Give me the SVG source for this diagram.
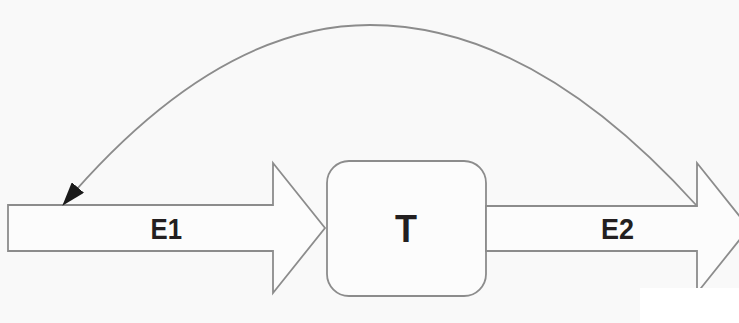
<svg xmlns="http://www.w3.org/2000/svg" width="739" height="323" viewBox="0 0 739 323">
  <defs>
    <style>
      .shape { fill: #fcfcfc; stroke: #8c8c8c; stroke-width: 1.8; stroke-linejoin: miter; }
      .lbl { font-family: "Liberation Sans", Arial, sans-serif; font-weight: bold; fill: #231f20; }
      .conn { fill: none; stroke: #8c8c8c; stroke-width: 1.8; }
    </style>
    <marker id="ah" viewBox="0 0 24 16" refX="23" refY="8" markerWidth="24" markerHeight="16" markerUnits="userSpaceOnUse" orient="auto">
      <path d="M0,0 L24,8 L0,16 Z" fill="#1a1a1a"/>
    </marker>
  </defs>
  <rect x="0" y="0" width="739" height="323" fill="#f9f9f9"/>

  <g id="E1">
    <path class="shape" d="M8,205 L273,205 L273,163 L325,228 L273,293 L273,251 L8,251 Z"/>
    <text class="lbl" x="150.5" y="239" font-size="30" textLength="31.5" lengthAdjust="spacingAndGlyphs">E1</text>
  </g>

  <g id="T">
    <rect class="shape" x="327" y="161" width="159" height="135" rx="22" ry="22"/>
    <text class="lbl" x="395" y="242" font-size="39" textLength="22" lengthAdjust="spacingAndGlyphs">T</text>
  </g>

  <g id="E2">
    <path class="shape" d="M486,206 L697,206 L697,163 L749,228 L697,293 L697,251 L486,251 Z"/>
    <rect x="640" y="288" width="99" height="35" fill="#ffffff"/>
    <text class="lbl" x="601" y="239" font-size="30" textLength="33" lengthAdjust="spacingAndGlyphs">E2</text>
  </g>

  <g id="connectors">
    <path class="conn" d="M697,206 Q533.5,25 370,25 Q216,25 63,205" marker-end="url(#ah)"/>
  </g>
</svg>
